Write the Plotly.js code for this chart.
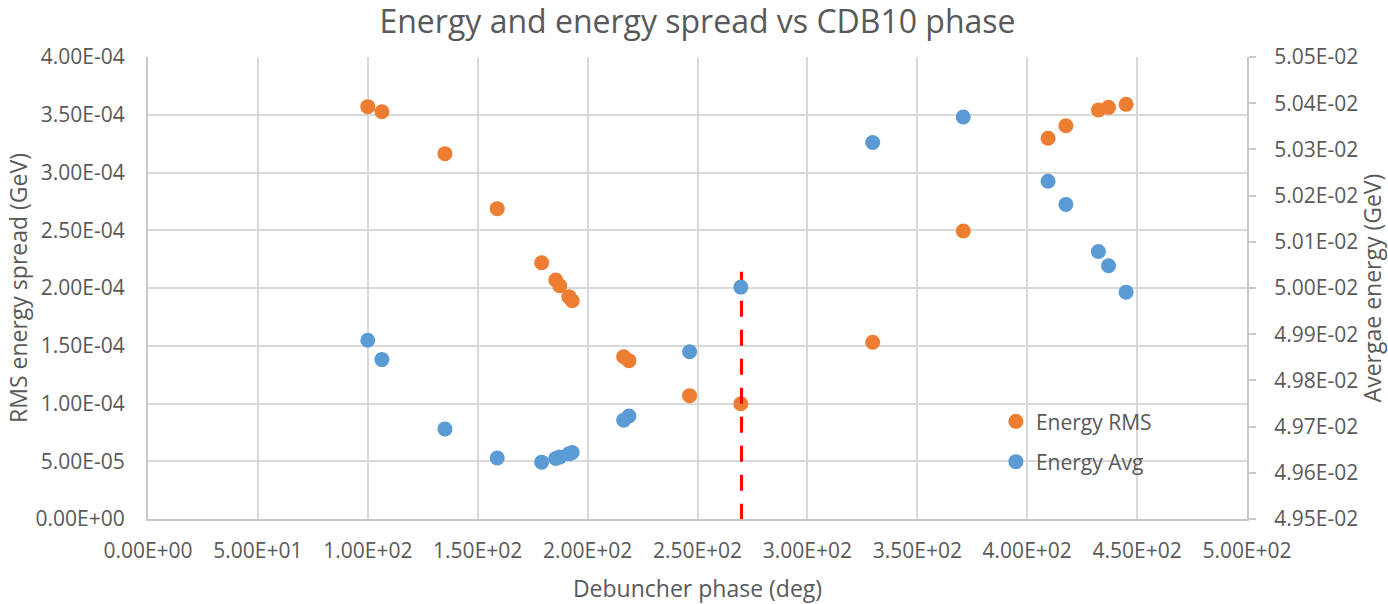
<!DOCTYPE html>
<html>
<head>
<meta charset="utf-8">
<script src="https://cdn.plot.ly/plotly-3.0.1.min.js"></script>
<style>html,body{margin:0;padding:0;background:#fff;}#chart{width:1388px;height:604px;}</style>
</head>
<body>
<div id="chart"></div>
<script>
// Debuncher phase (deg)
const phase = [100.0, 106.4, 135.1, 158.9, 179.1, 185.5, 187.3, 191.5, 193.0, 216.4,
               218.8, 246.4, 269.7, 329.7, 370.9, 409.5, 417.6, 432.4, 437.0, 445.0];
// RMS energy spread (GeV)
const energyRms = [3.570e-4, 3.526e-4, 3.163e-4, 2.687e-4, 2.219e-4, 2.069e-4, 2.020e-4, 1.925e-4, 1.890e-4, 1.405e-4,
                   1.371e-4, 1.068e-4, 0.998e-4, 1.530e-4, 2.494e-4, 3.296e-4, 3.405e-4, 3.541e-4, 3.564e-4, 3.590e-4];
// Average energy (GeV)
const energyAvg = [0.049887, 0.049845, 0.049695, 0.049632, 0.049623, 0.049631, 0.049634, 0.049641, 0.049644, 0.049714,
                   0.049723, 0.049862, 0.050002, 0.050315, 0.050370, 0.050231, 0.050181, 0.050079, 0.050048, 0.049991];
// Red reference marker line
const markerPhase = [270, 270];
const markerLevel = [2.14e-4, 0];

const xTickVals = [0, 50, 100, 150, 200, 250, 300, 350, 400, 450, 500];
const xTickText = ['0.00E+00','5.00E+01','1.00E+02','1.50E+02','2.00E+02','2.50E+02','3.00E+02','3.50E+02','4.00E+02','4.50E+02','5.00E+02'];
const yTickVals = [0, 5e-5, 1e-4, 1.5e-4, 2e-4, 2.5e-4, 3e-4, 3.5e-4, 4e-4];
const yTickText = ['0.00E+00','5.00E-05','1.00E-04','1.50E-04','2.00E-04','2.50E-04','3.00E-04','3.50E-04','4.00E-04'];
const y2TickVals = [0.0495, 0.0496, 0.0497, 0.0498, 0.0499, 0.0500, 0.0501, 0.0502, 0.0503, 0.0504, 0.0505];
const y2TickText = ['4.95E-02','4.96E-02','4.97E-02','4.98E-02','4.99E-02','5.00E-02','5.01E-02','5.02E-02','5.03E-02','5.04E-02','5.05E-02'];

const FONT = '"Open Sans", "Liberation Sans", sans-serif';
const GREY = '#595959';

const traces = [
  {
    x: phase, y: energyRms, type: 'scatter', mode: 'markers', name: 'Energy RMS',
    marker: {color: '#ed7d31', size: 15}, legendgroup: 'a', yaxis: 'y'
  },
  {
    x: phase, y: energyAvg, type: 'scatter', mode: 'markers', name: 'Energy Avg',
    marker: {color: '#5b9bd5', size: 15}, legendgroup: 'b', yaxis: 'y2'
  },
  {
    x: markerPhase, y: markerLevel, type: 'scatter', mode: 'lines', showlegend: false,
    line: {color: '#ff0000', width: 3, dash: '16px,13px'}, yaxis: 'y', hoverinfo: 'skip'
  }
];

const layout = {
  width: 1388, height: 604,
  paper_bgcolor: '#ffffff', plot_bgcolor: '#ffffff',
  margin: {l: 148, r: 141, t: 57, b: 85, autoexpand: false},
  font: {family: FONT, color: GREY, size: 21},
  title: {
    text: 'Energy and energy spread vs CDB10 phase',
    font: {family: FONT, size: 32, color: GREY},
    x: 0.5, xanchor: 'center', xref: 'paper',
    y: 1 - 22/604, yref: 'container', yanchor: 'middle'
  },
  xaxis: {
    range: [0, 500], tickvals: xTickVals, ticktext: xTickText,
    showgrid: true, gridcolor: '#d9d9d9', gridwidth: 2,
    showline: true, linecolor: '#c8c8c8', linewidth: 2,
    zeroline: false, ticks: '', ticklabelstandoff: 12,
    tickfont: {size: 21, color: GREY},
    title: {text: 'Debuncher phase (deg)', font: {size: 23, color: GREY}, standoff: 18},
    automargin: false, fixedrange: true
  },
  yaxis: {
    range: [0, 4e-4], tickvals: yTickVals, ticktext: yTickText,
    showgrid: true, gridcolor: '#d9d9d9', gridwidth: 2,
    showline: true, linecolor: '#c8c8c8', linewidth: 2,
    zeroline: false, ticks: '', ticklabelstandoff: 17,
    tickfont: {size: 21, color: GREY},
    title: {text: 'RMS energy spread (GeV)', font: {size: 23, color: GREY}, standoff: 2},
    automargin: false, fixedrange: true
  },
  yaxis2: {
    range: [0.0495, 0.0505], tickvals: y2TickVals, ticktext: y2TickText,
    overlaying: 'y', side: 'right',
    showgrid: false, zeroline: false,
    showline: true, linecolor: '#c8c8c8', linewidth: 2,
    ticks: 'outside', ticklen: 7, tickcolor: '#c8c8c8', tickwidth: 2,
    ticklabelstandoff: 14,
    tickfont: {size: 21, color: GREY},
    title: {text: 'Avergae energy (GeV)', font: {size: 23, color: GREY}, standoff: 4},
    automargin: false, fixedrange: true
  },
  showlegend: true,
  legend: {
    x: 0.7715, xanchor: 'left', y: 0.255, yanchor: 'top',
    bgcolor: 'rgba(0,0,0,0)', borderwidth: 0,
    font: {size: 21, color: GREY},
    traceorder: 'grouped', tracegroupgap: 10
  }
};

Plotly.newPlot('chart', traces, layout, {displayModeBar: false, staticPlot: true});
</script>
</body>
</html>
